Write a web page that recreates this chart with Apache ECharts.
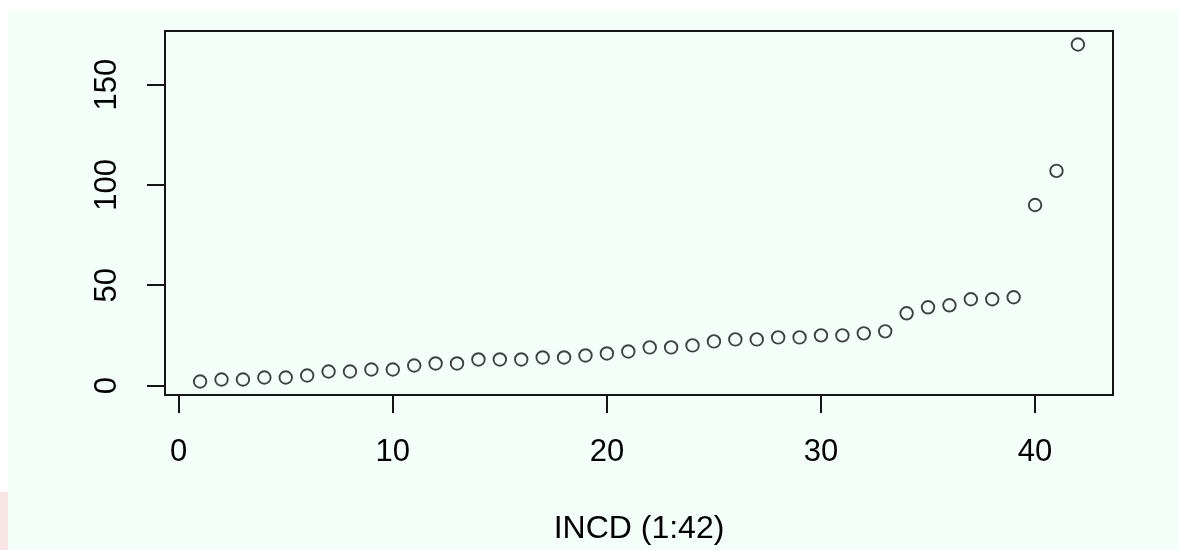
<!DOCTYPE html>
<html>
<head>
<meta charset="utf-8">
<script src="https://cdn.jsdelivr.net/npm/echarts@6/dist/echarts.min.js"></script>
<style>
  html, body { margin: 0; padding: 0; background: #ffffff; }
  #chart { width: 1179px; height: 550px; }
</style>
</head>
<body>
<div id="chart"></div>
<script>
// Index (1:42)
const xIndex = [1,2,3,4,5,6,7,8,9,10,11,12,13,14,15,16,17,18,19,20,21,
                22,23,24,25,26,27,28,29,30,31,32,33,34,35,36,37,38,39,40,41,42];
// Sorted INCD values
const incd = [2,3,3,4,4,5,7,7,8,8,10,11,11,13,13,13,14,14,15,16,17,
              19,19,20,22,23,23,24,24,25,25,26,27,36,39,40,43,43,44,90,107,170];
const xTicks = [0, 10, 20, 30, 40];
const yTicks = [0, 50, 100, 150];
const xTitle = 'INCD (1:42)';

// R-style 4% axis extension
const xMin = 1 - 0.04 * (42 - 1), xMax = 42 + 0.04 * (42 - 1);
const yMin = 2 - 0.04 * (170 - 2), yMax = 170 + 0.04 * (170 - 2);

const points = xIndex.map((x, i) => [x, incd[i]]);
const font = '"Liberation Sans", Arial, sans-serif';

const chart = echarts.init(document.getElementById('chart'), null, { renderer: 'canvas' });
chart.setOption({
  backgroundColor: '#ffffff',
  animation: false,
  graphic: [
    { type: 'rect', z: -100, shape: { x: 8, y: 10, width: 1171, height: 540 }, style: { fill: '#f5fffa' } },
    { type: 'rect', z: -100, shape: { x: 0, y: 492, width: 8, height: 58 }, style: { fill: '#f7e4e4' } }
  ],
  grid: {
    left: 165, top: 31, right: 66, bottom: 155,
    show: true, borderColor: '#151515', borderWidth: 2, backgroundColor: 'transparent'
  },
  xAxis: {
    type: 'value', min: xMin, max: xMax,
    splitLine: { show: false },
    axisLine: { show: false, onZero: false },
    axisTick: { show: true, inside: false, length: 18, customValues: xTicks, lineStyle: { color: '#151515', width: 2 } },
    axisLabel: { customValues: xTicks, margin: 42, fontSize: 31, fontFamily: font, color: '#000' },
    name: xTitle, nameLocation: 'middle', nameGap: 118,
    nameTextStyle: { fontSize: 32, fontFamily: font, color: '#000' }
  },
  yAxis: {
    type: 'value', min: yMin, max: yMax,
    splitLine: { show: false },
    axisLine: { show: false, onZero: false },
    axisTick: { show: true, inside: false, length: 18, customValues: yTicks, lineStyle: { color: '#151515', width: 2 } },
    axisLabel: { customValues: yTicks, rotate: 90, margin: 42, fontSize: 31, fontFamily: font, color: '#000' }
  },
  series: [{
    type: 'scatter',
    data: points,
    symbol: 'circle',
    symbolSize: 12.5,
    itemStyle: { color: 'rgba(0,0,0,0)', borderColor: '#111', borderWidth: 1.9 },
    emphasis: { disabled: true }
  }]
});
</script>
</body>
</html>
